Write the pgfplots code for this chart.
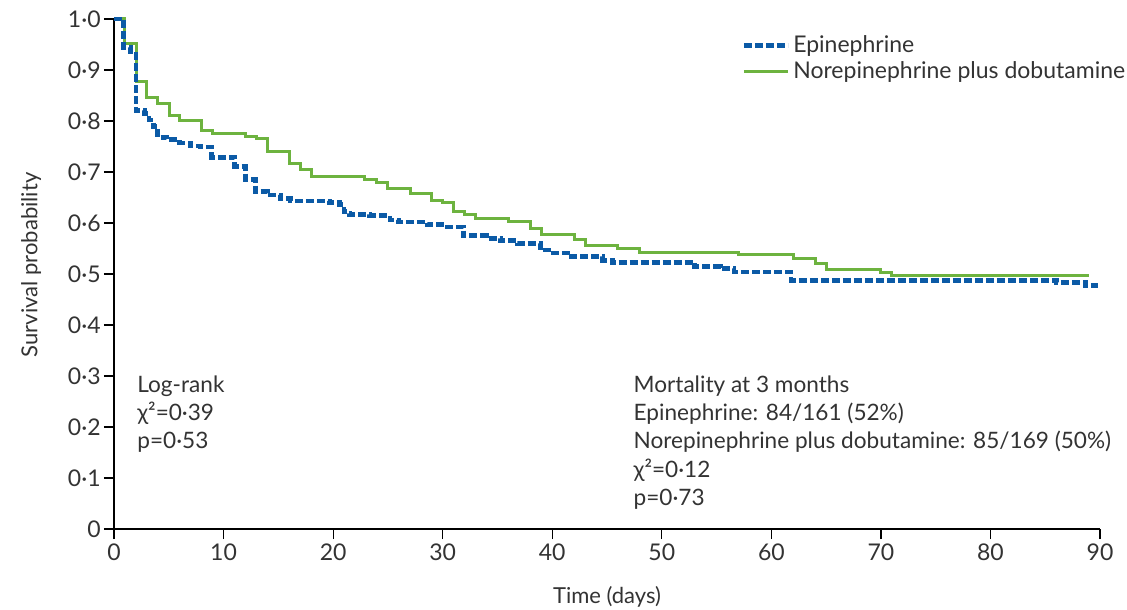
\documentclass[border=0pt]{standalone}
\usepackage{fontspec}
\setmainfont{Lato}
\usepackage{pgfplots}
\pgfplotsset{compat=1.18}
\definecolor{epi}{HTML}{0B5AA6}
\definecolor{nor}{HTML}{6DB33F}
\definecolor{txt}{HTML}{333333}
\begin{document}
\begin{tikzpicture}
\useasboundingbox (-57pt,-40pt) rectangle (506.5pt,264.5pt);
\begin{axis}[
  at={(0,0)}, anchor=south west,
  width=493pt, height=255pt, scale only axis,
  xmin=0, xmax=90, ymin=0, ymax=1,
  axis lines=left,
  axis line style={-, draw=black, line width=0.6pt},
  clip=false,
  tick align=outside,
  major tick length=5pt,
  tick style={black, line width=0.6pt},
  xtick={0,10,20,30,40,50,60,70,80,90},
  xticklabels={0,10,20,30,40,50,60,70,80,90},
  ytick={0,0.1,0.2,0.3,0.4,0.5,0.6,0.7,0.8,0.9,1},
  yticklabels={0,0·1,0·2,0·3,0·4,0·5,0·6,0·7,0·8,0·9,1·0},
  ticklabel style={font=\fontsize{11.5}{13}\selectfont, text=txt},
  yticklabel style={inner sep=1.5pt},
  xticklabel style={inner sep=2pt},
  xlabel={Time (days)},
  ylabel={Survival probability},
  label style={font=\fontsize{11}{13}\selectfont, text=txt},
  xlabel style={at={(axis description cs:0.5,-0.133)}, anchor=center},
  ylabel style={at={(axis description cs:-0.084,0.518)}, anchor=center},
  legend style={at={(axis description cs:0.636,0.975)}, anchor=north west,
    draw=none, fill=none, inner sep=0pt, row sep=0pt,
    font=\fontsize{11.5}{13}\selectfont, text=txt,
    nodes={inner sep=1.5pt}},
  legend cell align=left,
  legend image code/.code={\draw[#1] (0pt,0pt) -- (22pt,0pt);},
  reverse legend,
]
\addplot[const plot, color=nor, line width=1.5pt] coordinates {
(0,1) (1,0.952) (2.05,0.877) (3,0.846) (4,0.835) (5.05,0.810) (6,0.800)
(7.95,0.781) (9,0.776) (12,0.769) (13,0.765) (14,0.740) (16,0.716)
(17,0.704) (18,0.691) (22.9,0.686) (24,0.679) (25,0.668) (27.1,0.657)
(29,0.644) (30,0.640) (31,0.622) (32,0.616) (33,0.609) (36,0.603)
(38,0.590) (39,0.578) (42,0.567) (43,0.555) (46,0.550) (48,0.543)
(57,0.539) (62,0.531) (64,0.520) (65,0.508) (70,0.503) (71,0.497) (89,0.497)
};
\addlegendentry{Norepinephrine plus dobutamine}
\addplot[const plot, color=epi, line width=2.4pt, dash pattern=on 4pt off 1.5pt] coordinates {
(0,1) (0.9,0.944) (1.5,0.936) (2,0.820) (2.8,0.814) (3.2,0.802) (3.6,0.789)
(4,0.768) (4.8,0.763) (6,0.757) (7,0.751) (7.9,0.749) (8.9,0.729)
(11,0.711) (12,0.686) (12.9,0.662) (14,0.655) (15.2,0.648) (16.1,0.643)
(19.7,0.640) (20.6,0.636) (21,0.622) (21.3,0.619) (21.5,0.616) (23.3,0.614)
(25.2,0.606) (26,0.602) (28.6,0.597) (30.4,0.592) (31.9,0.575) (34,0.570)
(35.3,0.565) (36.8,0.560) (38.9,0.547) (40.1,0.541) (41.4,0.534)
(44.6,0.527) (45.5,0.523) (53,0.514) (55.4,0.510) (56.6,0.504)
(61.8,0.488) (86,0.484) (88.7,0.478) (89.8,0.478)
};
\addlegendentry{Epinephrine}
\node[anchor=north west, align=left, inner sep=0pt, text=txt,
  font=\fontsize{11.3}{14.2}\selectfont] at (axis cs:2.1,0.302)
  {Log-rank\\χ²=0·39\\p=0·53};
\node[anchor=north west, align=left, inner sep=0pt, text=txt,
  font=\fontsize{11.3}{14.2}\selectfont] at (axis cs:47.4,0.302)
  {Mortality at 3 months\\Epinephrine: 84/161 (52\%)\\Norepinephrine plus dobutamine: 85/169 (50\%)\\χ²=0·12\\p=0·73};
\end{axis}
\end{tikzpicture}
\end{document}
